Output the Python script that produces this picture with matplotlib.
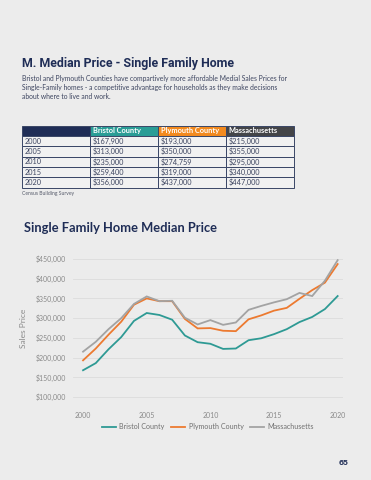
import matplotlib
matplotlib.use('Agg')
import matplotlib.pyplot as plt
from matplotlib.ticker import FuncFormatter

years = list(range(2000, 2021))
bristol = [167900, 186000, 221000, 252000, 293000, 313000, 308000, 296000, 256000, 239000,
           235000, 222000, 223000, 244000, 249000, 259400, 272000, 290000, 303000, 323000, 356000]
plymouth = [193000, 223000, 258000, 291000, 334000, 350000, 343000, 343000, 298000, 274000,
            274759, 268000, 267000, 297000, 307000, 319000, 326000, 349000, 371000, 390000, 437000]
mass = [215000, 240000, 272000, 300000, 336000, 355000, 343000, 344000, 301000, 284000,
        295000, 283000, 289000, 321000, 331000, 340000, 348000, 364000, 356000, 395000, 447000]
series_names = ['Bristol County', 'Plymouth County', 'Massachusetts']
table_years = [2000, 2005, 2010, 2015, 2020]
y_ticks = [100000, 150000, 200000, 250000, 300000, 350000, 400000, 450000]
x_ticks = [2000, 2005, 2010, 2015, 2020]

BG = '#ececec'
NAVY = '#1f2d56'
TEAL = '#2e9a94'
ORANGE = '#ec7a30'
GRAY = '#a3a3a3'
colors = [TEAL, ORANGE, GRAY]
header_colors = [NAVY, '#2a9d96', '#f28a1f', '#444548']

W, H = 371, 480
fig = plt.figure(figsize=(W / 100, H / 100), dpi=100, facecolor=BG)


def fx(px):
    return px / W


def fy(py):
    return 1 - py / H


# page header
fig.text(fx(22), fy(64), 'M. Median Price - Single Family Home', fontsize=8.9, fontweight='bold',
         color=NAVY, family='Roboto', va='center', ha='left')
para = ('Bristol and Plymouth Counties have compartively more affordable Medial Sales Prices for\n'
        'Single-Family homes - a competitive advantage for households as they make decisions\n'
        'about where to live and work.')
fig.text(fx(22), fy(75.5), para, fontsize=4.9, color='#3d4560', family='Lato',
         va='top', ha='left', linespacing=1.3)

# table
tax = fig.add_axes([fx(22), fy(187.7), fx(293.7 - 22), (187.7 - 125.7) / H])
tax.axis('off')
cols = [bristol, plymouth, mass]
cell_text = []
for y in table_years:
    i = years.index(y)
    cell_text.append([str(y)] + ['${:,}'.format(c[i]) for c in cols])
tbl = tax.table(cellText=cell_text, colLabels=[''] + series_names, cellLoc='left',
                colLoc='left', bbox=[0, 0, 1, 1])
tbl.auto_set_font_size(False)
for (r, c), cell in tbl.get_celld().items():
    cell.set_edgecolor('#3a4666')
    cell.set_linewidth(0.7)
    cell.PAD = 0.04
    txt = cell.get_text()
    txt.set_fontsize(5.3)
    txt.set_family('Lato')
    if r == 0:
        cell.set_facecolor(header_colors[c])
        txt.set_color('white')
        txt.set_fontweight('bold')
    else:
        cell.set_facecolor('#f1f1f1')
        txt.set_color('#3d4560')

fig.text(fx(22), fy(193), 'Census Building Survey', fontsize=3.6, color='#555a6a',
         family='Lato', va='center', ha='left')

# chart
fig.text(fx(24), fy(228), 'Single Family Home Median Price', fontsize=9.3, fontweight='bold',
         color=NAVY, family='Lato', va='center', ha='left')

ax = fig.add_axes([fx(73), fy(399), fx(343 - 73), 142 / H])
ax.set_facecolor(BG)
for vals, name, col in zip([bristol, plymouth, mass], series_names, colors):
    ax.plot(years, vals, color=col, lw=1.3, label=name, solid_joinstyle='miter')
ax.set_xlim(1999.21, 2020.42)
ax.set_ylim(95000, 455000)
ax.set_yticks(y_ticks)
ax.set_xticks(x_ticks)
ax.yaxis.set_major_formatter(FuncFormatter(lambda v, p: '${:,.0f}'.format(v)))
ax.grid(axis='y', color='#dcdcdc', lw=0.6)
ax.set_axisbelow(True)
for s in ax.spines.values():
    s.set_visible(False)
ax.tick_params(length=0, labelsize=5, labelcolor='#8a8a8a', pad=5)
ax.tick_params(axis='x', pad=9)
for lab in ax.get_xticklabels() + ax.get_yticklabels():
    lab.set_family('Lato')
ax.set_ylabel('Sales Price', fontsize=6, color='#8a8a8a', family='Lato', labelpad=6)

leg = ax.legend(loc='upper center', bbox_to_anchor=(0.5, -0.125), ncol=3, frameon=False,
                handlelength=2.0, columnspacing=0.9, handletextpad=0.5,
                prop={'family': 'Lato', 'size': 5.1})
for t in leg.get_texts():
    t.set_color('#707070')

fig.text(fx(344), fy(463), '65', fontsize=5.5, fontweight='bold', color=NAVY,
         family='Inter', va='center', ha='center')

fig.savefig('out.png', dpi=100, facecolor=BG)
